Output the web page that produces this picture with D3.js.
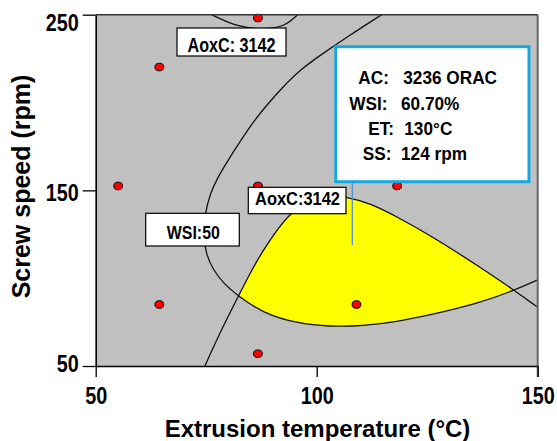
<!DOCTYPE html>
<html>
<head>
<meta charset="utf-8">
<script src="https://cdn.jsdelivr.net/npm/d3@7"></script>
<style>
body { margin: 0; background: #fff; }
svg { display: block; }
text { font-family: Arial, "Liberation Sans", sans-serif; font-weight: bold; fill: #000; }
</style>
</head>
<body>
<svg id="chart" width="557" height="441"></svg>
<script>
// design points (extrusion temperature, screw speed)
var pointTemp  = [55.1, 64.4, 64.4, 86.7, 86.7, 86.7, 109.0, 109.0, 118.2];
var pointSpeed = [152.5, 220.2, 85.0, 248.1, 152.5, 57.0, 220.2, 85.0, 152.5];

// WSI = 50 contour
var wsiTemp  = [114.7, 107.5, 100.9, 96.2, 92.4, 88.7, 85.7, 82.9, 80.0, 77.7, 75.9, 74.7, 74.3, 75.0, 76.6, 79.0,
                82.3, 87.9, 95.5, 103.0, 110.5, 118.1, 125.6, 136.9, 144.7, 150];
var wsiSpeed = [250, 238.4, 227.1, 218.5, 209.0, 198.6, 189.1, 178.8, 167.3, 157.8, 148.3, 136.5, 124.6, 113.2, 104.7, 96.7,
                89.8, 80.0, 74.3, 72.4, 72.8, 75.2, 79.0, 85.9, 93.1, 99];

// AoxC = 3142 contour, lower branch
var aoxTemp  = [74.7, 78.4, 82.3, 84.9, 87.9, 91.0, 94.0, 97.8, 101.9, 106.8, 112.1, 118.1, 125.6, 136.9, 144.7, 150];
var aoxSpeed = [50, 70.5, 89.8, 102.8, 116.0, 127.4, 136.9, 143.4, 147.3, 146.4, 142.6, 135.0, 124.6, 106.4, 93.1, 83.4];

// AoxC = 3142 contour, top branch
var aoxTopTemp  = [76.2, 81.9, 87.2, 92.4, 95.7];
var aoxTopSpeed = [250, 244, 242.1, 244, 250];

var xTicks = [50, 100, 150];
var yTicks = [50, 150, 250];

// optimum point callout
var optLabels = ["AC:", "WSI:", "ET:", "SS:"];
var optValues = ["3236 ORAC", "60.70%", "130°C", "124 rpm"];

var svg = d3.select("#chart");
var pLeft = 95.7, pRight = 537.7, pTop = 14.7, pBottom = 366;

var x = d3.scaleLinear().domain([50, 150]).range([pLeft, pRight]);
var y = d3.scaleLinear().domain([50, 250]).range([pBottom, pTop]);

function zip(a, b) { return a.map(function(d, i) { return [d, b[i]]; }); }

var smooth = d3.line()
    .x(function(d) { return x(d[0]); })
    .y(function(d) { return y(d[1]); })
    .curve(d3.curveBasis);
var through = d3.line()
    .x(function(d) { return x(d[0]); })
    .y(function(d) { return y(d[1]); })
    .curve(d3.curveCatmullRom);

var wsi = zip(wsiTemp, wsiSpeed);
var aox = zip(aoxTemp, aoxSpeed);
var aoxTop = zip(aoxTopTemp, aoxTopSpeed);

var defs = svg.append("defs");
defs.append("clipPath").attr("id", "plotclip")
  .append("rect").attr("x", pLeft).attr("y", pTop)
  .attr("width", pRight - pLeft).attr("height", pBottom - pTop);
// area under the AoxC contour
defs.append("clipPath").attr("id", "belowAox")
  .append("path")
  .attr("d", smooth(aox) + "L" + x(150) + "," + y(50) + "Z");

// plot background
svg.append("rect")
    .attr("x", pLeft).attr("y", pTop)
    .attr("width", pRight - pLeft).attr("height", pBottom - pTop)
    .attr("fill", "#c0c0c0");

var plot = svg.append("g").attr("clip-path", "url(#plotclip)");

// overlay (yellow): inside the WSI contour and under the AoxC contour
plot.append("g").attr("clip-path", "url(#belowAox)")
  .append("path")
    .attr("d", smooth(wsi) + "L" + x(150) + "," + y(250) + "Z")
    .attr("fill", "#ffff00");

[smooth(wsi), smooth(aox), through(aoxTop)].forEach(function(d) {
  plot.append("path")
      .attr("d", d)
      .attr("fill", "none")
      .attr("stroke", "#111")
      .attr("stroke-width", 1.3);
});

// design points
svg.selectAll("ellipse.pt").data(zip(pointTemp, pointSpeed)).enter()
  .append("ellipse").attr("class", "pt")
    .attr("cx", function(d) { return x(d[0]); })
    .attr("cy", function(d) { return y(d[1]); })
    .attr("rx", 4.4).attr("ry", 3.8)
    .attr("fill", "#ff0000")
    .attr("stroke", "#000").attr("stroke-width", 1);

// frame
svg.append("line").attr("x1", pLeft).attr("x2", pRight).attr("y1", pTop).attr("y2", pTop)
    .attr("stroke", "#333").attr("stroke-width", 1.6);
svg.append("line").attr("x1", pRight).attr("x2", pRight).attr("y1", pTop).attr("y2", pBottom + 11)
    .attr("stroke", "#666").attr("stroke-width", 2);

// axes
var xAxis = svg.append("g").attr("transform", "translate(0," + pBottom + ")")
    .call(d3.axisBottom(x).tickValues(xTicks).tickSize(11).tickPadding(11).tickSizeOuter(0));
var yAxis = svg.append("g").attr("transform", "translate(" + pLeft + ",0)")
    .call(d3.axisLeft(y).tickValues(yTicks).tickSize(13).tickPadding(4).tickSizeOuter(0));

[xAxis, yAxis].forEach(function(a) {
  a.select(".domain").attr("stroke", "#000").attr("stroke-width", 1.6);
  a.selectAll(".tick line").attr("stroke", "#000").attr("stroke-width", 1.3);
  a.selectAll(".tick text")
      .attr("font-size", 23)
      .attr("font-family", "Arial, 'Liberation Sans', sans-serif")
      .attr("font-weight", "bold")
      .attr("fill", "#000");
});
xAxis.selectAll(".tick text").attr("transform", "scale(0.86,1)");
yAxis.selectAll(".tick text")
    .attr("x", -17 / 0.86)
    .attr("transform", "scale(0.86,1)")
    .attr("dy", function(d) { return d === 250 ? "0.68em" : d === 150 ? "0.42em" : "0.22em"; });

// axis titles
svg.append("text")
    .attr("x", 317.5).attr("y", 437)
    .attr("text-anchor", "middle").attr("font-size", 24)
    .text("Extrusion temperature (°C)");
svg.append("text")
    .attr("transform", "translate(30,186.5) rotate(-90)")
    .attr("text-anchor", "middle").attr("font-size", 25)
    .text("Screw speed (rpm)");

function label(str, tx, ty, size, anchor, sx) {
  return svg.append("text")
      .attr("transform", "translate(" + tx + "," + ty + ") scale(" + sx + ",1)")
      .attr("text-anchor", anchor)
      .attr("font-size", size)
      .text(str);
}

function box(bx, by, bw, bh) {
  svg.append("rect")
      .attr("x", bx).attr("y", by).attr("width", bw).attr("height", bh)
      .attr("fill", "#fff").attr("stroke", "#000").attr("stroke-width", 1.2);
}

// contour labels
box(177, 28, 109, 28);
label("AoxC: 3142", 231.5, 51.7, 19.5, "middle", 0.83);
box(145.7, 213.3, 93.6, 32.7);
label("WSI:50", 193.3, 239.3, 17.7, "middle", 0.9);
box(248.3, 187.3, 97.7, 26.4);
label("AoxC:3142", 297.5, 205, 18.6, "middle", 0.885);

// callout for the optimum
svg.append("line")
    .attr("x1", 352.3).attr("x2", 352.3).attr("y1", 181.7).attr("y2", 245)
    .attr("stroke", "#4f8fd6").attr("stroke-width", 1.3);
svg.append("rect")
    .attr("x", 335.7).attr("y", 46.7).attr("width", 193.3).attr("height", 135)
    .attr("fill", "#fff").attr("stroke", "#17a8e3").attr("stroke-width", 3);

var labelX = [358.3, 349.3, 368.3, 362.7];
var valueX = [403.3, 401, 404.3, 401];
var rowY = [84, 110, 135, 160];
optLabels.forEach(function(t, i) {
  label(t, labelX[i], rowY[i], 18.5, "start", 0.93);
  label(optValues[i], valueX[i], rowY[i], 18.5, "start", 0.93);
});
</script>
</body>
</html>
